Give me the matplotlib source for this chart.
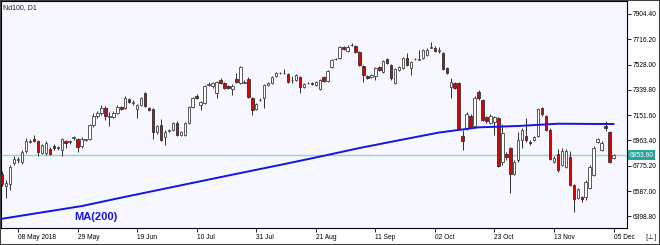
import numpy as np
import pandas as pd
import matplotlib
matplotlib.use("Agg")
import matplotlib.pyplot as plt
from matplotlib.patches import Rectangle

# ---------------- data ----------------
opens = [6714, 6625, 6640, 6796, 6818, 6803, 6885, 6952, 6974, 6960,
         6870, 6870, 6900, 6922, 6907, 6893, 6960, 6952, 6982, 6974,
         6922, 6967, 6974, 7079, 7146, 7168, 7205, 7138, 7138, 7168,
         7212, 7205, 7272, 7242, 7198, 7227, 7317, 7205, 7198, 7027,
         7079, 6989, 7034, 7041, 7093, 7004, 7004, 7093, 7212, 7294,
         7227, 7242, 7376, 7369, 7317, 7413, 7391, 7369, 7346, 7421,
         7391, 7391, 7421, 7279, 7198, 7265, 7279, 7376, 7391, 7443,
         7465, 7465, 7458, 7413, 7413, 7436, 7361, 7391, 7391, 7376,
         7346, 7436, 7406, 7510, 7570, 7577, 7659, 7629, 7674, 7666,
         7622, 7518, 7443, 7436, 7443, 7510, 7473, 7570, 7525, 7391,
         7488, 7503, 7577, 7503, 7570, 7562, 7577, 7599, 7651, 7651,
         7629, 7614, 7503, 7361, 7391, 7391, 6997, 7056, 7146, 7071,
         7324, 7265, 7138, 7093, 7101, 7131, 6803, 6863, 6907, 6714,
         6818, 6967, 6997, 6952, 6967, 6997, 7205, 7146, 7041, 6803,
         6863, 6781, 6766, 6840, 6632, 6535, 6543, 6543, 6610, 6707,
         6952, 6893, 7071, 7027, 6833]
highs = [6736, 6669, 6781, 6848, 6840, 6893, 6982, 6974, 7004, 6967,
         6937, 6960, 6915, 6937, 6922, 6982, 6967, 6967, 6997, 6982,
         6989, 6974, 7086, 7168, 7183, 7227, 7220, 7175, 7183, 7227,
         7220, 7294, 7279, 7265, 7235, 7287, 7324, 7212, 7205, 7079,
         7123, 7041, 7049, 7101, 7108, 7034, 7101, 7220, 7287, 7309,
         7257, 7376, 7398, 7398, 7406, 7428, 7398, 7376, 7384, 7465,
         7518, 7413, 7436, 7287, 7242, 7279, 7384, 7398, 7443, 7473,
         7473, 7495, 7465, 7443, 7458, 7443, 7391, 7398, 7398, 7406,
         7421, 7443, 7488, 7570, 7577, 7666, 7666, 7674, 7689, 7674,
         7629, 7525, 7451, 7458, 7510, 7518, 7562, 7577, 7532, 7503,
         7518, 7584, 7614, 7555, 7577, 7637, 7644, 7651, 7696, 7666,
         7659, 7622, 7510, 7428, 7398, 7398, 7041, 7175, 7160, 7294,
         7339, 7272, 7146, 7160, 7146, 7138, 7086, 6878, 6915, 6818,
         7027, 7056, 7131, 6967, 6997, 7205, 7212, 7153, 7056, 6848,
         6900, 6907, 6900, 6885, 6640, 6610, 6550, 6669, 6781, 6922,
         6982, 6960, 7108, 7034, 6863]
lows = [6625, 6535, 6595, 6781, 6796, 6788, 6870, 6945, 6952, 6848,
        6863, 6855, 6855, 6893, 6893, 6848, 6907, 6937, 6967, 6878,
        6907, 6960, 6967, 7064, 7131, 7153, 7116, 7071, 7131, 7160,
        7190, 7198, 7242, 7227, 7131, 7220, 7212, 7183, 6974, 7012,
        6960, 6930, 7027, 7034, 6997, 6997, 6997, 7086, 7205, 7272,
        7190, 7235, 7369, 7354, 7279, 7384, 7346, 7346, 7302, 7391,
        7384, 7391, 7279, 7153, 7190, 7257, 7205, 7369, 7384, 7436,
        7458, 7458, 7391, 7391, 7406, 7317, 7354, 7384, 7376, 7369,
        7339, 7398, 7398, 7503, 7562, 7570, 7637, 7622, 7666, 7614,
        7518, 7398, 7421, 7428, 7413, 7480, 7465, 7532, 7413, 7384,
        7480, 7495, 7518, 7451, 7562, 7562, 7570, 7592, 7651, 7622,
        7614, 7488, 7458, 7279, 7346, 7041, 6893, 7041, 7056, 7064,
        7265, 7108, 7093, 7086, 7004, 6766, 6781, 6818, 6573, 6707,
        6803, 6907, 6952, 6930, 6960, 6989, 7146, 7034, 6818, 6796,
        6729, 6774, 6759, 6625, 6431, 6528, 6506, 6520, 6602, 6699,
        6945, 6885, 7034, 6796, 6826]
closes = [6640, 6647, 6766, 6826, 6826, 6878, 6960, 6960, 6960, 6878,
          6930, 6945, 6863, 6907, 6915, 6974, 6945, 6960, 6989, 6915,
          6974, 6974, 7079, 7146, 7168, 7205, 7146, 7146, 7168, 7212,
          7198, 7279, 7250, 7250, 7227, 7279, 7220, 7190, 7027, 7071,
          6967, 7027, 7041, 7093, 7004, 7027, 7093, 7212, 7279, 7279,
          7250, 7369, 7384, 7391, 7398, 7391, 7354, 7354, 7369, 7398,
          7510, 7398, 7287, 7190, 7235, 7265, 7376, 7391, 7436, 7465,
          7465, 7465, 7398, 7413, 7451, 7361, 7384, 7391, 7384, 7398,
          7413, 7406, 7480, 7562, 7570, 7659, 7644, 7659, 7674, 7622,
          7525, 7451, 7428, 7451, 7503, 7488, 7555, 7540, 7428, 7495,
          7510, 7577, 7525, 7547, 7570, 7570, 7637, 7637, 7659, 7629,
          7637, 7495, 7465, 7398, 7354, 7049, 6960, 7160, 7064, 7279,
          7279, 7116, 7108, 7146, 7138, 6774, 7019, 6840, 6714, 6803,
          6967, 7041, 6967, 6945, 6989, 7198, 7160, 7041, 6826, 6833,
          6744, 6885, 6885, 6632, 6528, 6602, 6528, 6654, 6766, 6907,
          6974, 6945, 7056, 6803, 6853.6]

ma_bars = [0, 10, 20, 30, 40, 50, 60, 70, 80, 90, 100, 110, 120, 130, 140, 150, 154]
ma_values = [6381, 6428, 6475, 6538, 6599, 6660, 6721, 6781, 6843, 6907,
             6965, 7022, 7061, 7071, 7088, 7086, 7086]

price_ticks = [7904.40, 7716.20, 7528.00, 7339.80, 7151.60, 6963.40, 6775.20, 6587.00, 6398.80]
last_price = 6853.60
symbol_title = "Nd100, D1"
ma_label = "MA(200)"

dates = pd.bdate_range("2018-05-02", "2018-12-05").drop(pd.Timestamp("2018-11-22"))

# ---------------- figure ----------------
W, H = 660, 245
fig = plt.figure(figsize=(W / 100, H / 100), dpi=100, facecolor="white")
ax = fig.add_axes([1 / W, 1 - 228 / H, 626 / W, 227 / H])
ax.set_facecolor("#f7f8ff")

FONT = "Liberation Sans"
n = len(closes)
x = np.arange(n)
o = np.array(opens, float)
c = np.array(closes, float)
hi = np.array(highs, float)
lo = np.array(lows, float)
up = c >= o

# wicks
ax.vlines(x, lo, hi, color="#303030", lw=0.7, zorder=2)
# bodies
body_bottom = np.minimum(o, c)
body_h = np.maximum(np.abs(c - o), 1.5)
ax.bar(x[up], body_h[up], bottom=body_bottom[up], width=0.62,
       color="white", edgecolor="#404040", linewidth=0.6, zorder=3)
ax.bar(x[~up], body_h[~up], bottom=body_bottom[~up], width=0.62,
       color="#e00000", edgecolor="#303030", linewidth=0.6, zorder=3)

# moving average
ax.plot(ma_bars, ma_values, color="#1414e6", lw=1.4, zorder=4)

# current price line
ax.axhline(last_price, color="#8fd6d0", lw=1.0, zorder=1)

ax.set_xlim(-0.3, 157.4)
ax.set_ylim(6312, 8001)

# right axis
ax.yaxis.tick_right()
ax.set_yticks(price_ticks)
ax.set_yticklabels([f"{v:.2f}" for v in price_ticks], fontfamily=FONT, fontsize=4.8)
ax.tick_params(axis="y", length=3, width=0.6, pad=1, colors="black")

# bottom axis
tick_idx = list(range(4, n, 15))
tick_lbls = [dates[i].strftime("%d %b %Y") if k == 0 else dates[i].strftime("%d %b")
             for k, i in enumerate(tick_idx)]
ax.set_xticks(tick_idx)
ax.set_xticklabels(tick_lbls, fontfamily=FONT, fontsize=4.8)
for t in ax.get_xticklabels():
    t.set_ha("left")
ax.tick_params(axis="x", length=3, width=0.6, pad=1.5, colors="black")

for s in ax.spines.values():
    s.set_color("black")
    s.set_linewidth(0.8)

# price label box
ax.text(1.004, last_price, f"{last_price:.2f}", transform=ax.get_yaxis_transform(),
        ha="left", va="center", color="white", fontsize=4.8, fontfamily=FONT,
        bbox=dict(facecolor="#26a69a", edgecolor="none", pad=1.0), zorder=6, clip_on=False)

# MA label
ax.text(73 / 626, (228 - 217) / 227, ma_label, transform=ax.transAxes,
        ha="left", va="center", color="#1414e6", fontsize=8, fontweight="bold", fontfamily=FONT)

# title
fig.text(3 / W, 1 - 8 / H, symbol_title, ha="left", va="center", fontsize=5,
         fontfamily=FONT, color="#202020")
# bottom-right marker
fig.text(651 / W, 1 - 237 / H, "[⊥]", ha="center", va="center", fontsize=5,
         fontfamily="DejaVu Sans", color="#202020")

# outer border
fig.patches.append(Rectangle((0, 0), 1, 1, transform=fig.transFigure, fill=False,
                             edgecolor="#404040", linewidth=1.5))

fig.savefig("out.png", dpi=100, facecolor="white")
